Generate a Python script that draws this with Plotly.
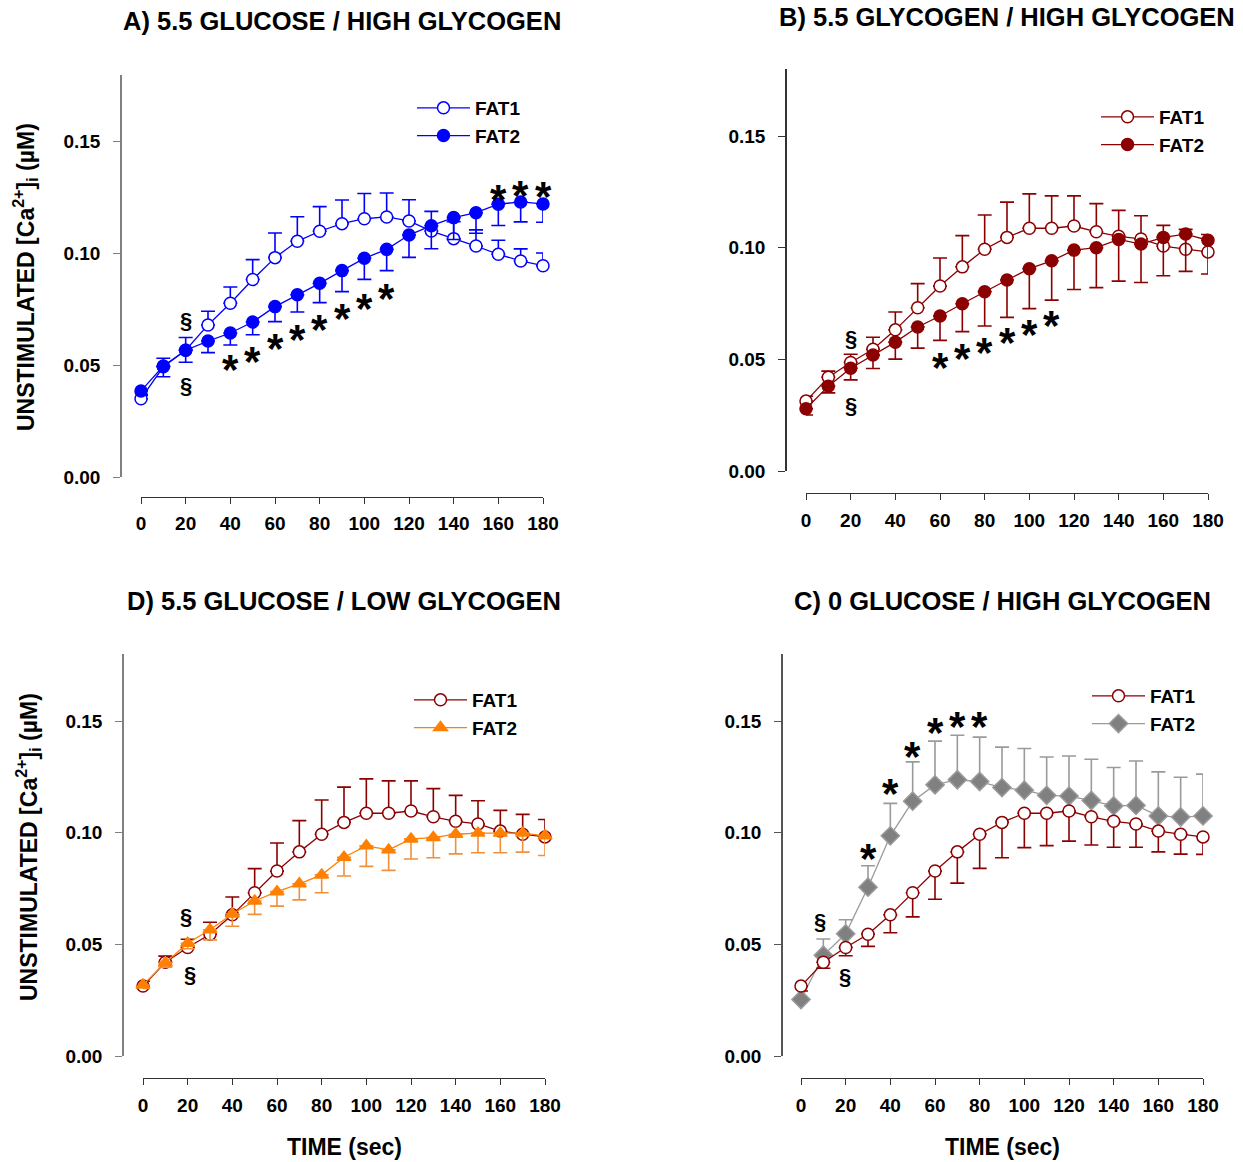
import plotly.graph_objects as go

# ---------------------------------------------------------------- data
time_s = [0, 10, 20, 30, 40, 50, 60, 70, 80, 90, 100, 110, 120, 130, 140, 150, 160, 170, 180]

# A) 5.5 glucose / high glycogen
a_fat1 = [0.0350, 0.0493, 0.0567, 0.0680, 0.0777, 0.0883, 0.0981, 0.1054, 0.1099, 0.1133,
          0.1155, 0.1163, 0.1145, 0.1100, 0.1066, 0.1033, 0.0996, 0.0966, 0.0945]
a_fat1_sem = [0.0015, 0.0038, 0.0057, 0.0061, 0.0073, 0.0089, 0.0110, 0.0110, 0.0110, 0.0106,
              0.0113, 0.0107, 0.0095, 0.0088, 0.0076, 0.0072, 0.0063, 0.0054, 0.0057]
a_fat2 = [0.0385, 0.0496, 0.0567, 0.0608, 0.0644, 0.0693, 0.0762, 0.0815, 0.0866, 0.0923,
          0.0978, 0.1018, 0.1082, 0.1124, 0.1160, 0.1182, 0.1220, 0.1230, 0.1221]
a_fat2_sem = [0.0015, 0.0048, 0.0054, 0.0052, 0.0054, 0.0057, 0.0067, 0.0077, 0.0086, 0.0094,
              0.0094, 0.0095, 0.0100, 0.0103, 0.0098, 0.0092, 0.0095, 0.0089, 0.0082]

# FAT1 reference series shared by panels B, C and D
ctrl_fat1 = [0.0313, 0.0420, 0.0486, 0.0545, 0.0632, 0.0731, 0.0828, 0.0914, 0.0993, 0.1046,
             0.1087, 0.1087, 0.1097, 0.1071, 0.1051, 0.1039, 0.1007, 0.0993, 0.0981]
ctrl_fat1_sem = [0.0022, 0.0027, 0.0037, 0.0054, 0.0080, 0.0108, 0.0126, 0.0140, 0.0153, 0.0158,
                 0.0154, 0.0145, 0.0135, 0.0126, 0.0116, 0.0104, 0.0093, 0.0089, 0.0078]

# B) 5.5 glycogen / high glycogen
b_fat2 = [0.0279, 0.0380, 0.0460, 0.0519, 0.0577, 0.0645, 0.0694, 0.0749, 0.0803, 0.0855,
          0.0906, 0.0941, 0.0989, 0.1000, 0.1037, 0.1016, 0.1046, 0.1061, 0.1033]
b_fat2_sem = [0.0028, 0.0030, 0.0052, 0.0060, 0.0076, 0.0095, 0.0109, 0.0125, 0.0154, 0.0167,
              0.0179, 0.0176, 0.0176, 0.0179, 0.0187, 0.0172, 0.0172, 0.0167, 0.0151]

# D) 5.5 glucose / low glycogen
d_fat2 = [0.0318, 0.0418, 0.0505, 0.0565, 0.0636, 0.0694, 0.0736, 0.0771, 0.0811, 0.0890,
          0.0941, 0.0923, 0.0972, 0.0978, 0.0993, 0.0998, 0.0998, 0.0998, 0.0986]
d_fat2_sem = [0.0015, 0.0020, 0.0025, 0.0045, 0.0055, 0.0060, 0.0065, 0.0072, 0.0080, 0.0084,
              0.0092, 0.0092, 0.0090, 0.0090, 0.0088, 0.0088, 0.0088, 0.0085, 0.0088]

# C) 0 glucose / high glycogen
c_fat2 = [0.0253, 0.0451, 0.0547, 0.0756, 0.0986, 0.1141, 0.1214, 0.1237, 0.1229, 0.1202,
          0.1190, 0.1167, 0.1164, 0.1144, 0.1120, 0.1122, 0.1075, 0.1070, 0.1075]
c_fat2_sem = [0.0010, 0.0073, 0.0063, 0.0096, 0.0145, 0.0176, 0.0196, 0.0199, 0.0199, 0.0181,
              0.0187, 0.0172, 0.0179, 0.0185, 0.0172, 0.0199, 0.0197, 0.0178, 0.0187]

# significance marks: (time, level)
a_stars = [(40, 0.0510), (50, 0.0550), (60, 0.0605), (70, 0.0646), (80, 0.0690), (90, 0.0738),
           (100, 0.0787), (110, 0.0829), (160, 0.1271), (170, 0.1291), (180, 0.1284)]
a_sect = [(20, 0.0702), (20, 0.0411)]
b_stars = [(60, 0.0494), (70, 0.0534), (80, 0.0561), (90, 0.0606), (100, 0.0643), (110, 0.0684)]
b_sect = [(20, 0.0594), (20, 0.0295)]
d_sect = [(19.3, 0.0623), (21, 0.0363)]
c_stars = [(30, 0.0914), (40, 0.1207), (50, 0.1371), (60, 0.1480), (70, 0.1508), (80, 0.1505)]
c_sect = [(8.5, 0.0602), (19.7, 0.0354)]

x_ticks = [0, 20, 40, 60, 80, 100, 120, 140, 160, 180]
y_ticks = [0.00, 0.05, 0.10, 0.15]

# ---------------------------------------------------------------- layout helpers
W, H = 1243, 1162
FONT = "Liberation Sans, Arial, Helvetica, sans-serif"
BLUE = "#0000FF"
DKRED = "#8B0000"
ORANGE = "#FF8000"
ORANGE_ERR = "#F0903C"
GREY = "#808080"
GREY_ERR = "#9A9A9A"


def fx(px):
    return px / W


def fy(py):
    return 1 - py / H


# pixel frames of each panel: data area (t=0..180, conc=0..0.18) and axis lines
panels = {
    "A": dict(ax="", x0=141, x1=543, ybot=477, ytop=74.5, yline=121, xline=496.5, ycol=GREY,
              title="A) 5.5 GLUCOSE / HIGH GLYCOGEN", tx=342, ty=21, legend="legend",
              lx=412, ly=89),
    "B": dict(ax="2", x0=806, x1=1208, ybot=471, ytop=69, yline=786, xline=493, ycol="#333333",
              title="B) 5.5 GLYCOGEN / HIGH GLYCOGEN", tx=1007, ty=17, legend="legend2",
              lx=1096, ly=98),
    "D": dict(ax="3", x0=143, x1=545, ybot=1056, ytop=654, yline=123, xline=1078, ycol=GREY,
              title="D) 5.5 GLUCOSE / LOW GLYCOGEN", tx=344, ty=601, legend="legend3",
              lx=409, ly=681),
    "C": dict(ax="4", x0=801, x1=1203, ybot=1056, ytop=654, yline=782, xline=1078, ycol="#555555",
              title="C) 0 GLUCOSE / HIGH GLYCOGEN", tx=1002, ty=601, legend="legend4",
              lx=1087, ly=677),
}

fig = go.Figure()


def add_series(p, y, sem, name, color, err_color, symbol, fill, up):
    cfg = panels[p]
    fig.add_trace(go.Scatter(
        x=time_s, y=y, name=name, mode="lines+markers",
        xaxis="x" + cfg["ax"], yaxis="y" + cfg["ax"], legend=cfg["legend"],
        line=dict(color=color, width=1.3),
        marker=dict(symbol=symbol, size=12 if symbol != "diamond" else 14,
                    color=fill, line=dict(color=color, width=1.5)),
        error_y=dict(type="data", symmetric=False,
                     array=sem if up else [0] * len(sem),
                     arrayminus=[0] * len(sem) if up else sem,
                     color=err_color, thickness=1.6, width=7),
        cliponaxis=False,
    ))


add_series("A", a_fat1, a_fat1_sem, "FAT1", BLUE, BLUE, "circle", "white", True)
add_series("A", a_fat2, a_fat2_sem, "FAT2", BLUE, BLUE, "circle", BLUE, False)
add_series("B", ctrl_fat1, ctrl_fat1_sem, "FAT1", DKRED, DKRED, "circle", "white", True)
add_series("B", b_fat2, b_fat2_sem, "FAT2", DKRED, DKRED, "circle", DKRED, False)
add_series("D", ctrl_fat1, ctrl_fat1_sem, "FAT1", DKRED, DKRED, "circle", "white", True)
add_series("D", d_fat2, d_fat2_sem, "FAT2", ORANGE, ORANGE_ERR, "triangle-up", ORANGE, False)
add_series("C", c_fat2, c_fat2_sem, "FAT2", GREY_ERR, GREY_ERR, "diamond", GREY, True)
add_series("C", ctrl_fat1, ctrl_fat1_sem, "FAT1", DKRED, DKRED, "circle", "white", False)

# legend order in C: FAT1 first
fig.data[-2].legendrank = 2
fig.data[-1].legendrank = 1

layout = dict(
    width=W, height=H, margin=dict(l=0, r=0, t=0, b=0),
    paper_bgcolor="white", plot_bgcolor="white",
    font=dict(family=FONT, size=19, color="black", weight="bold"),
    showlegend=True,
)

annotations = []
for key, cfg in panels.items():
    ax = cfg["ax"]
    layout["xaxis" + ax] = dict(
        domain=[fx(cfg["x0"]), fx(cfg["x1"])], range=[0, 180],
        anchor="free", position=fy(cfg["xline"]),
        tickvals=x_ticks, ticks="outside", ticklen=6, tickwidth=1.2, tickcolor="#333333",
        showline=True, linecolor="#333333", linewidth=1.3, showgrid=False, zeroline=False,
        tickfont=dict(family=FONT, size=19, color="black", weight="bold"),
        ticklabelstandoff=4, automargin=False,
    )
    layout["yaxis" + ax] = dict(
        domain=[fy(cfg["ybot"]), fy(cfg["ytop"])], range=[0, 0.18],
        anchor="free", position=fx(cfg["yline"]),
        tickvals=y_ticks, tickformat=".2f", ticks="outside", ticklen=7, tickwidth=1.2,
        tickcolor=cfg["ycol"], showline=True, linecolor=cfg["ycol"], linewidth=1.5,
        showgrid=False, zeroline=False,
        tickfont=dict(family=FONT, size=19, color="black", weight="bold"),
        ticklabelstandoff=9, automargin=False,
    )
    layout[cfg["legend"]] = dict(
        x=fx(cfg["lx"]), y=fy(cfg["ly"]), xanchor="left", yanchor="top",
        bgcolor="rgba(0,0,0,0)", itemwidth=53, tracegroupgap=0,
        font=dict(family=FONT, size=19, color="black", weight="bold"),
    )
    annotations.append(dict(
        text=cfg["title"], xref="paper", yref="paper", x=fx(cfg["tx"]), y=fy(cfg["ty"]),
        xanchor="center", yanchor="middle", showarrow=False,
        font=dict(family=FONT, size=25.5, color="black", weight="bold"),
    ))

marks = {"A": (a_stars, a_sect), "B": (b_stars, b_sect), "D": ([], d_sect), "C": (c_stars, c_sect)}
for key, (stars, sects) in marks.items():
    ax = panels[key]["ax"]
    for t, v in stars:
        annotations.append(dict(text="*", x=t, y=v, xref="x" + ax, yref="y" + ax,
                                showarrow=False, yshift=-7,
                                font=dict(family=FONT, size=42, color="black", weight="bold")))
    for t, v in sects:
        annotations.append(dict(text="§", x=t, y=v, xref="x" + ax, yref="y" + ax,
                                showarrow=False,
                                font=dict(family=FONT, size=22, color="black", weight="bold")))

# axis titles
ytitle = "UNSTIMULATED [Ca<sup>2+</sup>]<sub>i</sub> (µM)"
for x, y in [(25, 277), (28, 847)]:
    annotations.append(dict(text=ytitle, xref="paper", yref="paper", x=fx(x), y=fy(y),
                            textangle=-90, showarrow=False, xanchor="center", yanchor="middle",
                            font=dict(family=FONT, size=23, color="black", weight="bold")))
for x in [344, 1002]:
    annotations.append(dict(text="TIME (sec)", xref="paper", yref="paper", x=fx(x), y=fy(1147),
                            showarrow=False, xanchor="center", yanchor="middle",
                            font=dict(family=FONT, size=23, color="black", weight="bold")))

layout["annotations"] = annotations
fig.update_layout(**layout)
fig.write_html("out.html")
